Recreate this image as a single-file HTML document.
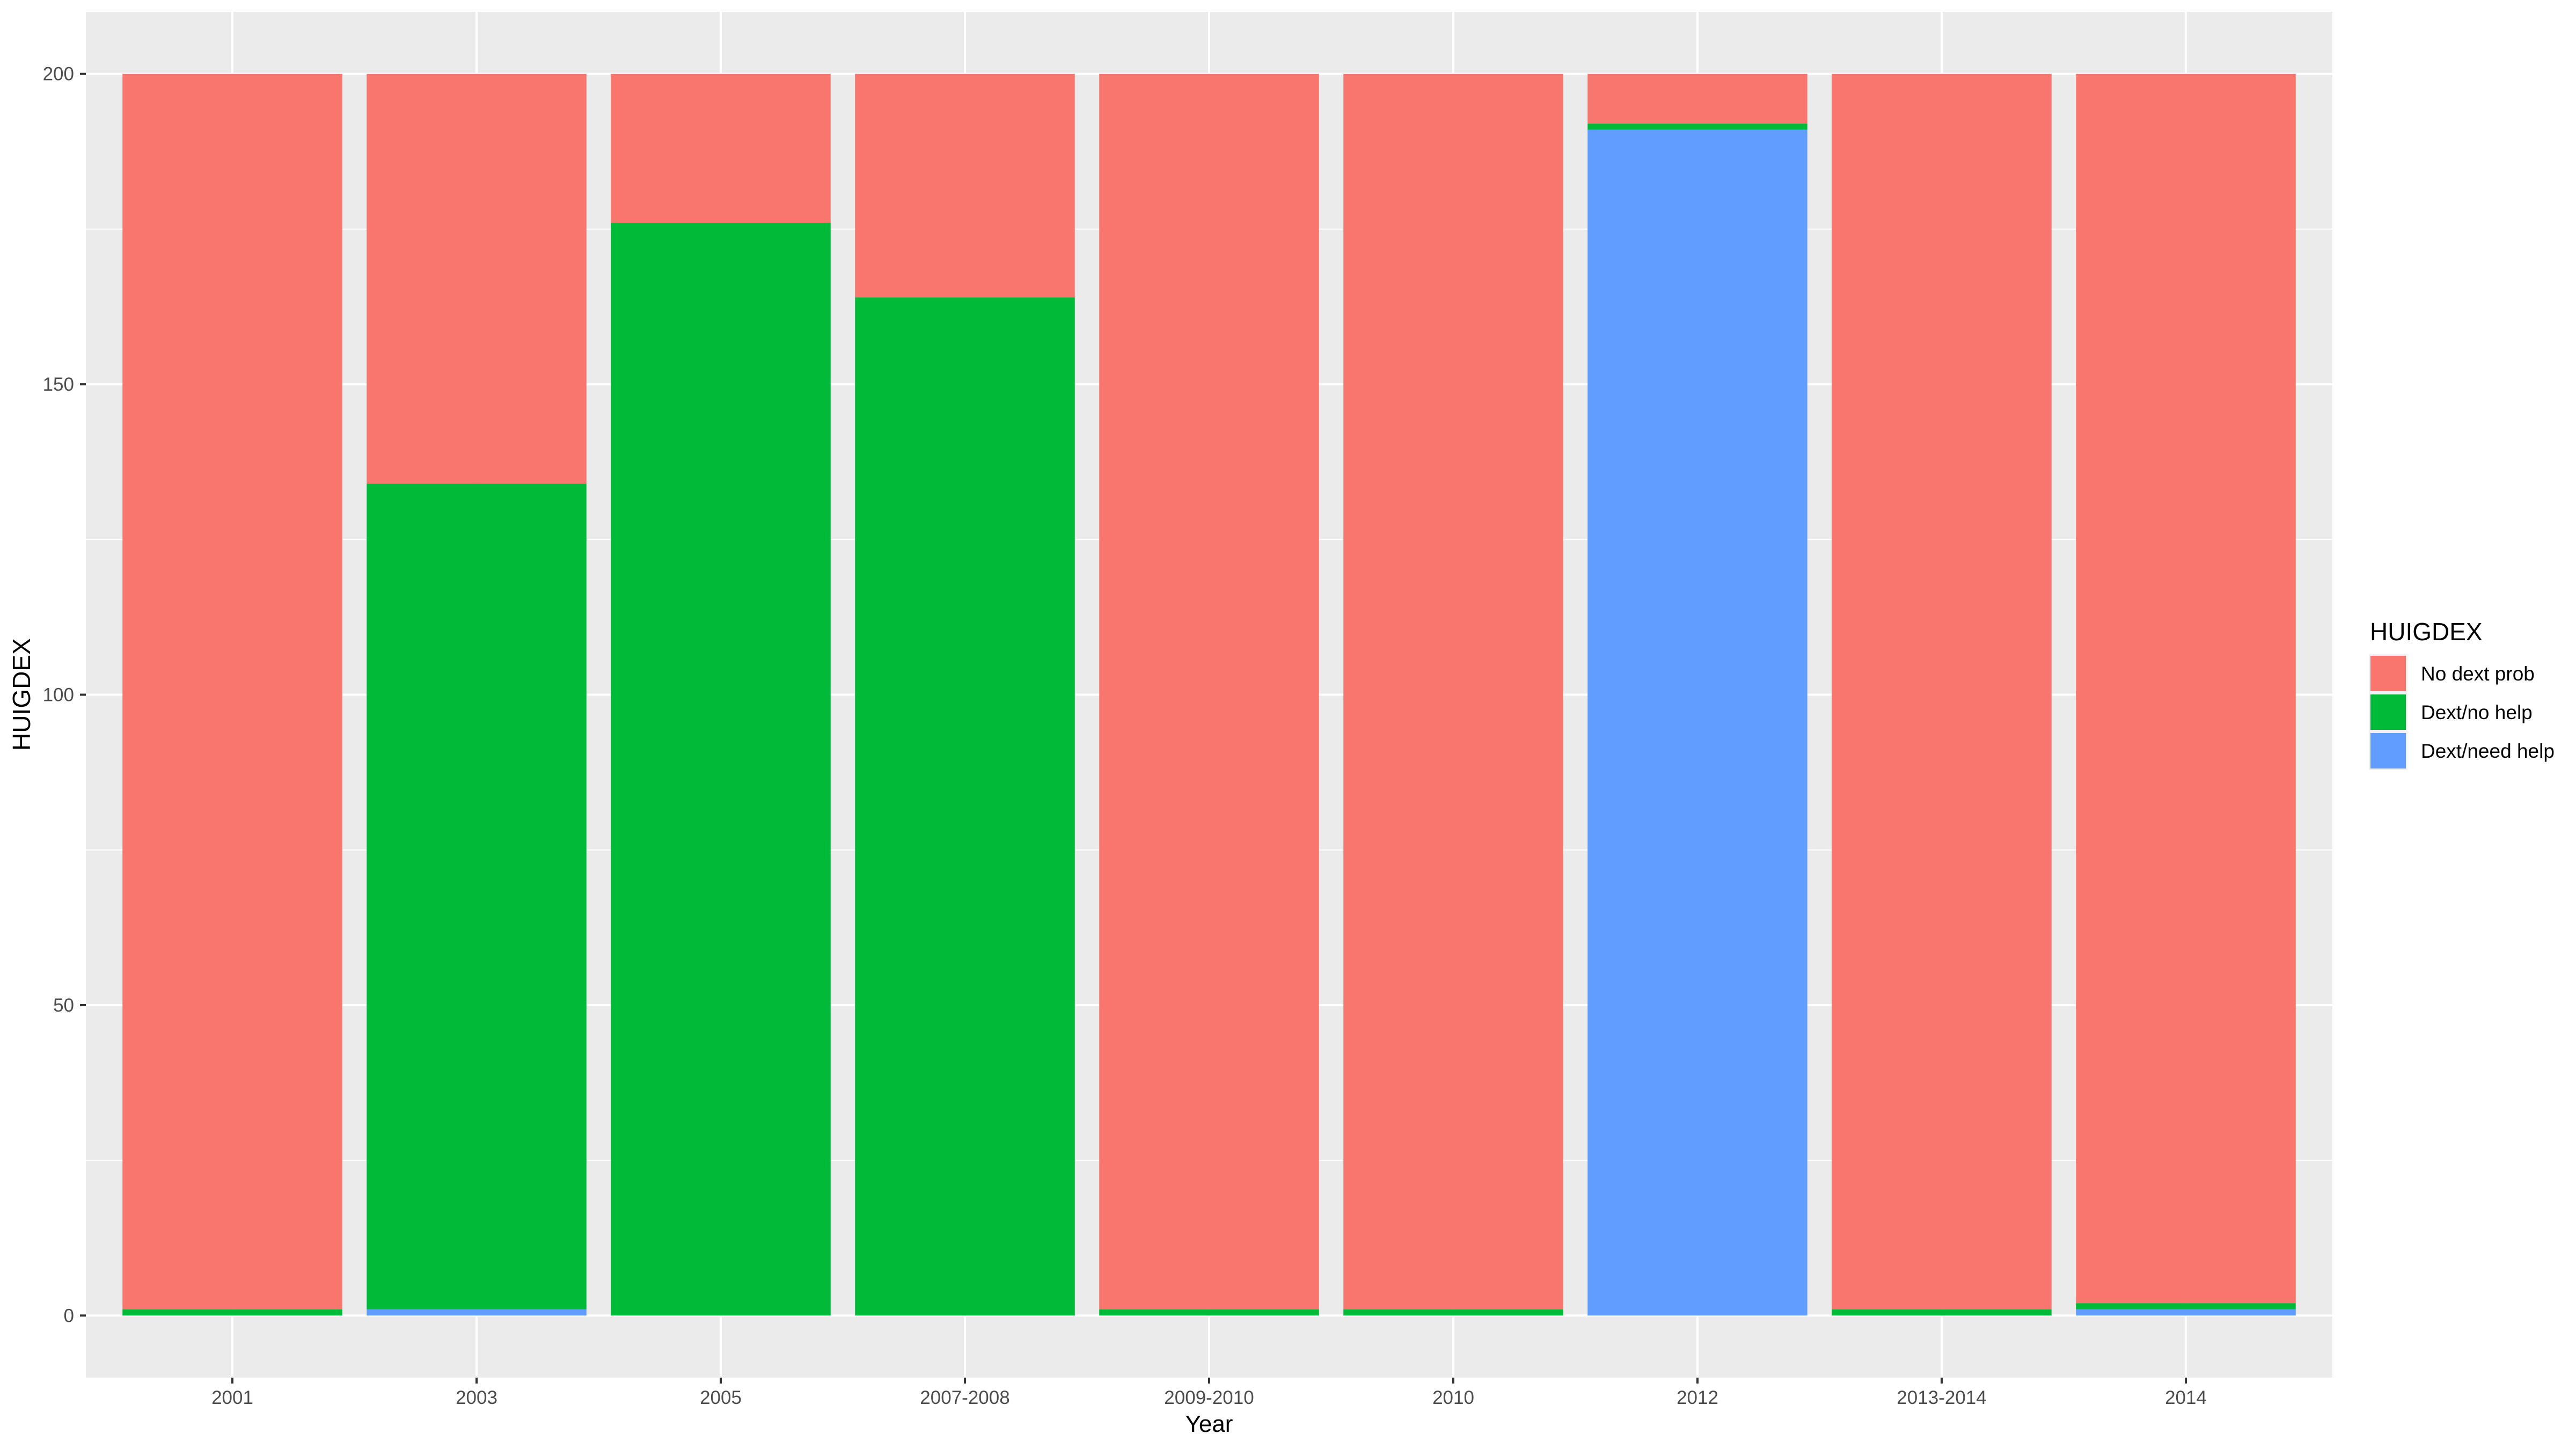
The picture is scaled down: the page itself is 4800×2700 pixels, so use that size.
<!DOCTYPE html>
<html><head><meta charset="utf-8"><style>
html,body{margin:0;padding:0;background:#fff;}
svg{display:block;font-family:"Liberation Sans",Arial,sans-serif;}
</style></head><body>
<svg id="chart" width="4800" height="2700" viewBox="0 0 4800 2700" xmlns="http://www.w3.org/2000/svg">
<rect x="0" y="0" width="4800" height="2700" fill="#fff"/>
<rect x="160" y="22" width="4186" height="2545" fill="#ebebeb"/>
<g id="grid"></g><g id="bars"></g><g id="axes"></g>
<text x="2253" y="2668" font-size="44" text-anchor="middle" fill="#000">Year</text>
<text transform="translate(56,1294) rotate(-90)" font-size="46" text-anchor="middle" fill="#000">HUIGDEX</text>
<g id="legend">
<text x="4416" y="1193" font-size="46" fill="#000">HUIGDEX</text>
<rect x="4414" y="1219" width="72" height="216" fill="#f2f2f2"/>
</g>
</svg>
<script>
const categories = ["2001","2003","2005","2007-2008","2009-2010","2010","2012","2013-2014","2014"];
const needHelp = [0,1,0,0,0,0,191,0,1];
const noHelp = [1,133,176,164,1,1,1,1,1];
const noProb = [199,66,24,36,199,199,8,199,198];
const yTicks = [0,50,100,150,200];
const yMinor = [25,75,125,175];
const seriesNames = ["No dext prob","Dext/no help","Dext/need help"];
const seriesColors = ["#F8766D","#00BA38","#619CFF"];

const NS="http://www.w3.org/2000/svg";
const L=160,R=4346,T=22,B=2567;
const yMin=-10,yMax=210;
const step=(R-L)/(categories.length+0.2);
function xc(i){return L+(i+0.6)*step;}
function ys(v){return B-(v-yMin)/(yMax-yMin)*(B-T);}
function mk(tag,attrs,parent){const e=document.createElementNS(NS,tag);for(const k in attrs)e.setAttribute(k,attrs[k]);parent.appendChild(e);return e;}
const grid=document.getElementById('grid'),bars=document.getElementById('bars'),axes=document.getElementById('axes'),legend=document.getElementById('legend');

yMinor.forEach(v=>{const l=mk('line',{x1:L,x2:R,y1:ys(v),y2:ys(v),stroke:'#fff','stroke-width':2},grid);

});
yTicks.forEach(v=>{const l=mk('line',{x1:L,x2:R,y1:ys(v),y2:ys(v),stroke:'#fff','stroke-width':4},grid);


const t=mk('line',{x1:149,x2:L,y1:ys(v),y2:ys(v),stroke:'#333','stroke-width':4},axes);


const tx=mk('text',{x:138,y:ys(v)+12,'font-size':35,'text-anchor':'end',fill:'#4d4d4d'},axes);tx.textContent=v;

});
categories.forEach((c,i)=>{const x=xc(i);
const l=mk('line',{x1:x,x2:x,y1:T,y2:B,stroke:'#fff','stroke-width':4},grid);


const t=mk('line',{x1:x,x2:x,y1:B,y2:B+11,stroke:'#333','stroke-width':4},axes);


const tx=mk('text',{x:x,y:2616,'font-size':35,'text-anchor':'middle',fill:'#4d4d4d'},axes);tx.textContent=c;


const w=step*0.9;
const segs=[[needHelp[i],seriesColors[2],'need-help'],[noHelp[i],seriesColors[1],'no-help'],[noProb[i],seriesColors[0],'no-prob']];
let base=0;
segs.forEach(s=>{if(s[0]>0){const r=mk('rect',{x:x-w/2,y:ys(base+s[0]),width:w,height:ys(base)-ys(base+s[0]),fill:s[1]},bars);

}
base+=s[0];});
});
seriesNames.forEach((n,i)=>{const y=1219+i*72;
const r=mk('rect',{x:4417,y:y+3,width:66,height:66,fill:seriesColors[i]},legend);


const t=mk('text',{x:4511,y:y+49,'font-size':37,fill:'#000'},legend);t.textContent=n;

});
</script>
</body></html>
